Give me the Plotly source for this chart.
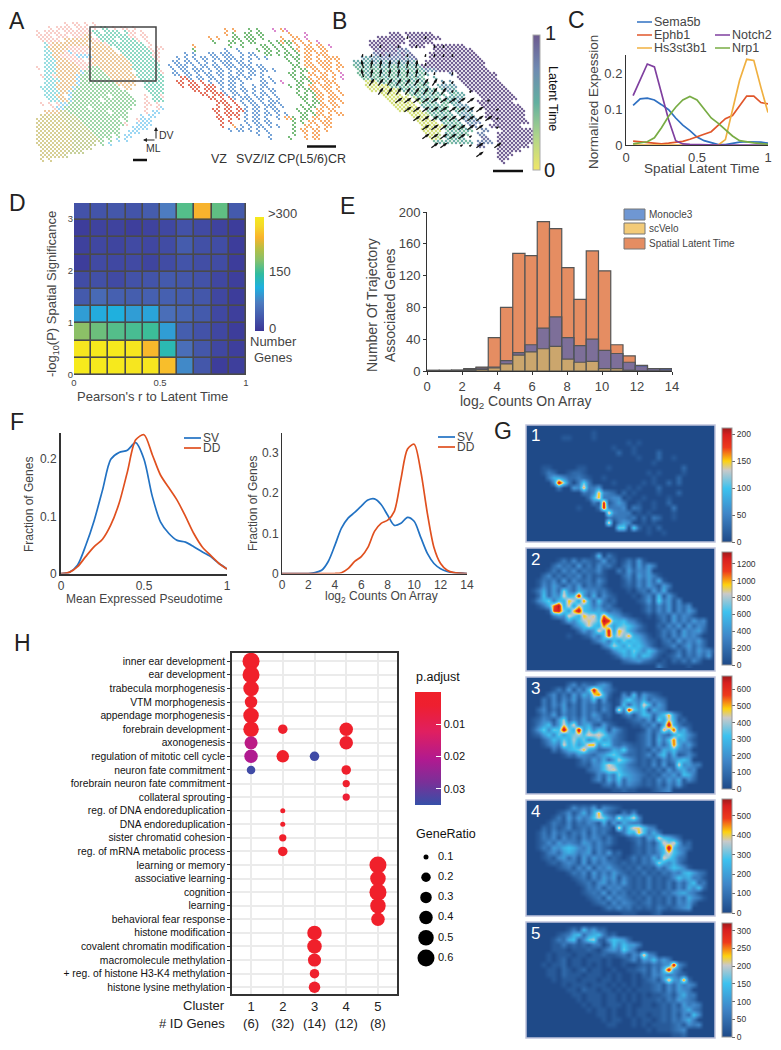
import math

import numpy as np
import plotly.graph_objects as go

W, H = 781, 1050
FONT = "Liberation Sans"
DARK = "#333333"

# ---- panel A: one letter per lattice cell
a_colors = dict(p="#f2a39a", o="#dd9a45", g="#4fb45e", t="#2db892", c="#45c3c9",
                b="#4ab6ea", y="#b5a63c", l="#98a945")
a_left = [
    ".......p.pp.p.p..", "...p.pppp.ppp.p.tt.p.pp.p", "p.pppp.ppppppptt.tttt.tpp.p",
    "pppp.ppp.pppoo.ttttttttpp.pp", ".ppppp.ooooooopptttt.ttttp.p", "..cpooooooooo.ooopttttttttt.p",
    "..cooooopppppoooooo.ttttttttp.pp", "..ccooopbpppp.oooooo.ttttttttpp", "..ccooppppbbbbooooooootttttttpp",
    "..cccooopppp.poooooooootttttttp", "..cccoooooppppoooooooooottttttt", "p.cccooooooppgggoooooooottttttt",
    "..cccoooooobgggggooooooo.ttttttp", ".pccpooooobgggggggooooooottttttt", "..ccccoooobggggggggoooooo.tttttt",
    "..cccooooobgggggggggooooo..ttttt", ".ccccoooobggggggggggg.oo...ttttt", "..ccccoobgggggggggggggg.....tttt",
    "..cccoo.bggggggggg.ggggg...p.ttp", "...cccoobggggggg.gggggggg..p.ttt", ".p.p.pbbggggggggggggggggg..pp.p",
    "....pbbgggggg.gggggggggg...p..pb", "..oooollgggggggggg.gggg....p.bb", ".yyyyyllllggggggggggggg...b.bb",
    "yyyyyyyllllgggggggggg.g..pbbb", "yyyyyyyyllllggggggggggp..bbbb", "yyyyyyyylllllgggggggg...bbbb",
    "yyyyyyyyylllllggggggg..bbb", "yyyyyyyyyllllllgggg.g.bb", "yyyyyyyyylllllllg.g.b.b",
    "yyyyyyyyyllllll.g.b", ".yyyyyyyylllll", ".yyyyyyyllll", ".yyyyyyl", ".y.y",
]
a2_colors = dict(b="#3f7fc6", r="#d8391f", g="#3f9f45", o="#f2872c", m="#cc58bb")
a_right = [
    "..............o.o...g.g...m.om", "..............o.g..gg.gg......o...m", "..........o.o...gg.ggg.g....o..oo.m.",
    "...........g...gg.g.gg...g.goggo.o.o.m", "......o........g..g....gg.g.g.g.o.oo.oo.m",
    "......g.......b..b....g.gg.g.g.go.ooo.oo", "....b.b...bb.bbb..b.bb..gg.g.gg.g.oo.ooo.",
    "..b.b.b.bb.bb.bbb.b.b.b.b....g.gg.oo.o.oooo", ".bb.bb.b.b.b.bbb.bb.b.........g.g.oo.oooo.o",
    "b.bbb.b.bb.bb.bbb.bbb.bb.......gg.ooo.ooo.oo", ".b.bb.bbb.b.bb.b.bb.bb.bb.b....g.gg.oo.oo.o",
    ".bb.bb.b.bb.bb.b.bb.bb.b......gg.g.oo.oo.o.m", "...rrb.bb.bb.b.bbb.bb..b.b.....g.ggo.ooo.o.m",
    "..rr.rr.r.b.bb.bb.b....bb.b.m...gg.goo.ooo", "...r.rrr.rrr.b.bb.b..b.bb.....g.gg.oo.ooo.o",
    "......rr.rrr.b.bb.bb.b.b.bb.....g.ggoo.oo.o", "........rr.rrrb.bb.b.b.bb.b.....g.g.goo.oo.o",
    "..........rr.r.rb.bbb.bb.b.b.....gg.goo.ooo", "............rrr.r.b.bb.b.bbb......g.ggo.oo.oo",
    "............r.rr.r.b.bb.bbb.b....g.gg.oo.oo.o", "...........rr.rr.rrb.bb.b.bb....g.gg.oo.oo",
    "............r.rrrr.b.bb.bb.b.b...gg.goo.o.oo", "............rr.r.r.b.bb.b..b.oog.gg.oo.oo",
    ".............r.r...b.bb.bb.....g.g.oo.ooo", ".............r..o.b.b.bb.b.b...g..oo.o.oo",
    "...............b.bb.b.b.b......g.oo.oo.o", "......................b..b.....g..o.oo.",
    ".........................b....g...o.oo",
]

# ---- panel B: latent time in ninths per lattice cell, arrows per coarser cell
b_time = [
    "", "..........999.9999999", ".......9999999.99999999", ".....999999999.999999",
    ".....99999899..9999..99999999", "......989989787......9999999999", "......7897887978....999999999999",
    "...65666777778678...9999999999999", ".5555565656656665..999999999999999", ".454545455545545559999999999999999",
    "..445444544454545457679999999999999", "..445444544454454545.....7.9999999999", "...4454445445445454..5.....9999999999",
    "....1114544544545454...6.6..9999999999", "....1111114454455445..56656..9999999999",
    ".....11111112545445454.5665...9999999999", "........11111.2454545454.5455...999999999",
    ".........111111.2454544.55565....999999999", "..........111111.24545.44556....999999999",
    "...........111111.5454544.5666...9999999999", "............111111.454544.54566...9999999999",
    "...............11112454545.5665...9999999999", "................1111.454545.6666..9999999999",
    ".................11111.54545.7677...999999999", "..................11111145445.77...99999999",
    "..................11111.4545454..77...999999999", "...................1112.545454..77...999999999",
    "....................112.54545....88..999999999", ".....................4545454545.7777.999999999",
    "................................88...99999999", ".....................................999999",
    ".....................................9999", ".....................................999", "......................................9",
]
arrow_codes = dict(A=-15, B=10, C=35, D=55)
b_arrows = [
    "......b.b", "...b.b.b.bb", ".bbbb.b.bbbb", ".ABBBBBBb", ".ABBBBBBbb.b", "..CCCCCCCCcc",
    "...CCCCCCCCc.c", ".....DDDDDDDDD.d", "......DDDDDDDDD.d", ".......DDDDDDDDDd", "........DDDDDDD.d",
    "........DDDDDd", ".........DD.ddD.D", "..............D",
]

# ---- panel C
c_x = [0.05, 0.1, 0.15, 0.2, 0.25, 0.3, 0.35, 0.4, 0.45, 0.5, 0.55, 0.6, 0.65, 0.7, 0.75, 0.8, 0.85, 0.9, 0.95, 1]
sema5b = [.11, .128, .13, .125, .112, .098, .075, .055, .04, .022, .012, .006, .001, .001, .005, .008, .009, .009, .008, .005]
ephb1 = [.011, .009, .005, .003, .003, .005, .007, .01, .016, .024, .03, .037, .055, .073, .082, .11, .136, .136, .118, .114]
hs3st3b1 = [0, 0, 0, 0, 0, 0, 0, 0, 0, 0, 0, 0, 0, .015, .1, .18, .238, .235, .16, .09]
notch2 = [.137, .18, .225, .217, .14, .07, .012, .003, .002, .001, 0, 0, 0, 0, 0, 0, 0, 0, 0, 0]
nrp1 = [.003, .006, .009, .02, .048, .08, .105, .125, .135, .125, .1, .075, .06, .042, .025, .012, .008, .006, .004, .002]

# ---- panel D, bottom row first
d_counts = [
    [300, 298, 298, 295, 295, 255, 85, 35, 8, 10],
    [295, 298, 298, 295, 250, 140, 60, 35, 18, 10],
    [190, 175, 165, 160, 155, 100, 42, 30, 18, 8],
    [100, 110, 115, 100, 105, 60, 50, 38, 20, 10],
    [38, 55, 45, 42, 45, 45, 40, 35, 18, 8],
    [24, 28, 22, 30, 32, 38, 35, 30, 18, 10],
    [8, 22, 20, 22, 16, 24, 32, 26, 24, 8],
    [12, 18, 16, 22, 18, 24, 40, 28, 25, 8],
    [8, 14, 14, 10, 14, 20, 30, 22, 14, 8],
    [30, 32, 35, 32, 40, 75, 165, 245, 170, 38],
]
d_scale = [[0, "#3b3596"], [.12, "#4458ab"], [.25, "#4d7cc0"], [.38, "#1fb0e0"], [.5, "#30bca0"],
           [.62, "#86c06c"], [.72, "#b5bf45"], [.82, "#f9b32c"], [.92, "#f5d92a"], [1, "#f6ea1c"]]

# ---- panel E, bins of 0.7
e_centers = [.35, 1.05, 1.75, 2.45, 3.15, 3.85, 4.55, 5.25, 5.95, 6.65, 7.35, 8.05, 8.75, 9.45, 10.15, 10.85, 11.55, 12.25, 12.95, 13.65]
e_spatial = [1, 1, 1, 3, 5, 42, 80, 148, 145, 188, 179, 130, 90, 151, 126, 33, 19, 6, 3, 2]
e_monocle = [0, 0, 1, 2, 4, 5, 13, 23, 33, 54, 68, 42, 32, 40, 26, 22, 11, 7, 3, 3]
e_scvelo = [0, 0, 0, 1, 2, 4, 9, 20, 24, 28, 31, 15, 11, 12, 3, 3, 1, 0, 0, 0]

# ---- panel F
f1_x = [0, .05, .1, .15, .2, .25, .3, .35, .4, .45, .5, .55, .6, .65, .7, .75, .8, .85, .9, .95, 1]
f1_sv = [0, .002, .015, .05, .093, .146, .2, .212, .216, .229, .2, .135, .09, .07, .058, .055, .047, .038, .03, .018, .008]
f1_dd = [0, .002, .012, .03, .047, .06, .085, .123, .178, .234, .243, .208, .172, .15, .128, .1, .07, .047, .032, .018, .008]
f2_x = [0, 1, 2, 2.5, 3, 3.5, 4, 4.5, 5, 5.5, 6, 6.5, 7, 7.5, 8, 8.5, 9, 9.5, 10, 10.5, 11, 11.5, 12, 12.5, 13, 14]
f2_sv = [0, 0, 0, .002, .008, .03, .07, .113, .138, .152, .168, .183, .186, .172, .145, .12, .125, .14, .13, .09, .05, .025, .012, .005, .002, 0]
f2_dd = [0, 0, 0, 0, 0, 0, 0, .002, .012, .03, .042, .065, .105, .125, .133, .155, .235, .31, .322, .255, .15, .065, .025, .008, .002, 0]

# ---- panel G: hex levels (0-f) of each panel's top value, one string per 5 px row
g_tops = [212, 1340, 680, 585, 322]
g_ticks = [[0, 50, 100, 150, 200], [0, 200, 400, 600, 800, 1000, 1200], [0, 100, 200, 300, 400, 500, 600],
           [0, 100, 200, 300, 400, 500], [0, 50, 100, 150, 200, 250, 300]]
g1 = [
    "", "0000000000000100", "0000000110000100000000000000", "000000000000000000001010",
    "00000000000000000100010", "00000000000000000020010000200", "0000000000000000000000100020010",
    "00000000000000000000000001000000", "00011000001100001000000000000002", "00013200122100000000000010100001",
    "00003664223210010000000001000020", "000004f930383000010000010100202", "00000030054b33500000101000200",
    "00000000000324b4320201000010002", "00000000000027b3344010010000100", "000000000000031e13530010010020",
    "000000000010002e3334032001000300", "0000000000000000b4333010100001000", "0000000000000000323323020320010",
    "0000000000000000b03540010100", "00000000000000000088082010200", "000000000000000000000000100100", "",
]
g2 = [
    "", "00000000000001703100", "000000131413212512013151", "00000242315131423102415253",
    "0000131424132241003152435", "000241313241312100024153531", "0013241514223142000131425261",
    "00142531425132310001214253153", "01362529426534231000102315261", "0027254a67e5261421000102417152",
    "01468376b95c6273120000125183514", "00136cf6a5a7635231000001314251424", "00001de85bf76564232000013142514253",
    "00000354a86b9a6c754210001023152431", "000000026479a97fd7674310001315242534", "000000000357a76c85787531002142515243",
    "00000000002535a7e5b96421001324153452", "0000000010012537d7a8b65310131425342", "000000000000024637586764210231524352",
    "000000000000000359758675310124135242", "00000000000000001467586475210131425341", "0000000000000000013657476310124132425",
    "00000000000000000002345321010213142", "0000000000000000000000000031000010",
]
g3 = [
    "", "00000000241322453", "0000013151427e8431", "0000241315264ac620041715321",
    "0003141425143715101585362432", "00031425131423132017264a7253", "002413152314231420b3e8571643",
    "0013251423142531200241476257b52", "0124315924252341100012325185a612", "0135725a6a356215210001132516f6311",
    "0258487f86f5847615310001423b7d462", "012574857897a9a8542100124153268642", "00024758696846856321001241637c5631",
    "0001353a6857bb487323211241525c6352", "00000314678b652236583212142657433", "0000000132543245786322124157261242",
    "000000000013253625975312131424675", "0000000000121447a8653212141512a4533", "00000000000023479a7543212131525634",
    "0000000000000142538654321214352763", "0000000000000241637254312142536142", "00000000000000023152432121314251",
    "00000000000000000112110001234",
]
g4 = [
    "", "00000000142325143210", "00000012413626b4210314", "00000131525347a853a57a4",
    "00001321413243161526433", "00021312412324232 0b37aa743".replace(" ", ""), "0013142313241423101376b7363",
    "00132414231424313100123154a7642", "001242534325424231000131315a8a512", "0013254676435242100001213257f7432",
    "0001342565345142512001213247a753", "000121452415253412101313263a8632", "00001213431514243212121324964631",
    "00000012314251435321213121425 7641".replace(" ", ""), "000000001324152425321213121324367532", "000000000123142535142121312124756331",
    "000000000012314524252121312131425723", "000000000001324143422121312131426472", "00000000000123251423121312132456431",
    "000000000000123152432121312131426431", "00000000000001231424321231213143 52".replace(" ", ""), "00000000000000013242312121321 2345".replace(" ", ""),
    "000000000000000000011100012",
]
g5 = [
    "", "0000000013173522", "000000123672567312", "000001326714892157652",
    "00000113121213302747553", "0000011101112102453853", "0000101110110112 1123143b43".replace(" ", ""),
    "00001012011011101001241547353", "00010112011010101001001213245f42", "0000110210120110010011231427f53",
    "00001102111011101010010214353422", "00000101110111011010010123 15b54c2".replace(" ", ""), "0000000101110111010101011231425343",
    "000000001102110110101011123142543", "0000000001101110110101010112314633", "0000000000101110110101011121325432",
    "000000000001011011101001 10121315343".replace(" ", ""), "00000000000010110100101111121324632", "00000000000000110100101101121314274",
    "00000000000000010110010110121324 63".replace(" ", ""), "0000000000000000110001010111 1231434".replace(" ", ""), "00000000000000000000000010111234",
    "00000000000000000000000000000112",
]
g_scale = [[0, "#1f4a88"], [.25, "#3f86c8"], [.47, "#3dc2ef"], [.63, "#c9c9c9"], [.71, "#fdd20e"],
           [.83, "#ee3a1c"], [.94, "#d81f1f"], [1, "#9e1b1b"]]

# ---- panel H
h_terms = ["inner ear development", "ear development", "trabecula morphogenesis", "VTM morphogenesis",
           "appendage morphogenesis", "forebrain development", "axonogenesis", "regulation of mitotic cell cycle",
           "neuron fate commitment", "forebrain neuron fate commitment", "collateral sprouting",
           "reg. of DNA endoreduplication", "DNA endoreduplication", "sister chromatid cohesion",
           "reg. of mRNA metabolic process", "learning or memory", "associative learning", "cognition", "learning",
           "behavioral fear response", "histone modification", "covalent chromatin modification",
           "macromolecule methylation", "+ reg. of histone H3-K4 methylation", "histone lysine methylation"]
h_clusters = [1, 2, 3, 4, 5]
h_genes = [6, 32, 14, 12, 8]
dot_term = [0, 1, 2, 3, 4, 5, 5, 5, 6, 6, 7, 7, 7, 8, 8, 9, 10, 11, 12, 13, 14, 15, 16, 17, 18, 19, 20, 21, 22, 23, 24]
dot_cluster = [1, 1, 1, 1, 1, 1, 2, 4, 1, 4, 1, 2, 3, 1, 4, 4, 4, 2, 2, 2, 2, 5, 5, 5, 5, 5, 3, 3, 3, 3, 3]
dot_ratio = [.6, .6, .5, .35, .5, .5, .2, .4, .38, .4, .4, .35, .2, .18, .2, .15, .15, .1, .1, .15, .2,
             .6, .5, .6, .5, .4, .45, .45, .38, .2, .3]
dot_padj = [.001, .001, .001, .001, .001, .001, .002, .001, .019, .002, .021, .001, .034, .034, .002, .002, .005,
            .001, .001, .001, .001, .001, .001, .001, .001, .001, .001, .001, .002, .002, .002]
legend_ratio = [.1, .2, .3, .4, .5, .6]
legend_diam = [5, 9.5, 11.5, 13.5, 15.5, 17]
padj_ticks = [.01, .02, .03]
padj_top = .035
# high end of the scale is the low p.adjust: the bar is drawn red on top
padj_scale = [[0, "#3650a8"], [.2, "#7a3098"], [.4, "#b01a90"], [.65, "#e01f60"], [.88, "#ee1f30"], [1, "#f0202a"]]

fig = go.Figure()
axis_count = 0
HIDE = dict(visible=False)


def add_axes(box, xa, ya):
    global axis_count
    axis_count += 1
    n = "" if axis_count == 1 else axis_count
    x0, x1, y0, y1 = box
    fig.update_layout({
        f"xaxis{n}": dict(domain=[x0 / W, x1 / W], anchor=f"y{n}", **xa),
        f"yaxis{n}": dict(domain=[1 - y1 / H, 1 - y0 / H], anchor=f"x{n}", **ya),
    })
    return f"x{n}", f"y{n}"


def txt(text, x, y, size=12, anchor="left", rot=0, color=DARK):
    fig.add_annotation(text=text, x=x / W, y=1 - y / H, xref="paper", yref="paper", showarrow=False, borderpad=0,
                       xanchor=anchor, yanchor="middle", textangle=rot, font=dict(size=size, color=color))


def line(x0, y0, x1, y1, color=DARK, width=1.5):
    fig.add_shape(type="line", xref="paper", yref="paper", x0=x0 / W, x1=x1 / W, y0=1 - y0 / H, y1=1 - y1 / H,
                  line=dict(color=color, width=width))


def rect(x0, y0, x1, y1, fill=None, color=None, width=1, layer="above"):
    fig.add_shape(type="rect", xref="paper", yref="paper", x0=x0 / W, x1=x1 / W, y0=1 - y0 / H, y1=1 - y1 / H,
                  fillcolor=fill, layer=layer, line=dict(color=color, width=width if color else 0))


def lattice(rows):
    # two dots per cell, checkerboard style
    out = []
    for r, row in enumerate(rows):
        for c, ch in enumerate(row):
            if ch != ".":
                out.append((c + .25, r + .25, ch))
                out.append((c + .75, r + .75, ch))
    return out


def bar_opts(x, y0, length, thick):
    return dict(x=x / W, xanchor="left", xpad=0, y=1 - y0 / H, yanchor="top", ypad=0, lenmode="pixels", len=length,
                thicknessmode="pixels", thickness=thick)


# A, whole section and the boxed detail
for rows, colors, box, size, alpha in [(a_left, a_colors, (36, 168, 22, 162), 2, .72),
                                        (a_right, a2_colors, (168, 344, 28, 140), 2, .95)]:
    xa, ya = add_axes(box, dict(range=[0, (box[1] - box[0]) / 4], **HIDE), dict(range=[(box[3] - box[2]) / 4, 0], **HIDE))
    pts = lattice(rows)
    fig.add_trace(go.Scatter(x=[p[0] for p in pts], y=[p[1] for p in pts], mode="markers", xaxis=xa, yaxis=ya,
                             marker=dict(size=size, opacity=alpha, color=[colors[p[2]] for p in pts])))
rect(90, 27, 156, 81, color="#444444", width=1.5)
line(133, 160, 147, 160, "#111111", 2.5)
line(307, 146.5, 336, 146.5, "#111111", 2.5)
fig.add_annotation(x=156 / W, y=1 - 127 / H, xref="paper", yref="paper", ax=0, ay=13, text="", arrowhead=2, arrowsize=.8,
                   arrowwidth=1, arrowcolor="#222222")
fig.add_annotation(x=143 / W, y=1 - 140 / H, xref="paper", yref="paper", ax=13, ay=0, text="", arrowhead=2, arrowsize=.8,
                   arrowwidth=1, arrowcolor="#222222")
txt("DV", 158, 135, 10.5)
txt("ML", 145, 148, 10.5)
txt("VZ", 219, 159, 12.5, "center")
txt("SVZ/IZ", 255, 159, 12.5, "center")
txt("CP(L5/6)CR", 312, 159, 12.5, "center")

# B
xa, ya = add_axes((349, 533, 28, 168), dict(range=[0, 46], **HIDE), dict(range=[35, 0], **HIDE))
pts = lattice(b_time)
fig.add_trace(go.Scatter(x=[p[0] for p in pts], y=[p[1] for p in pts], mode="markers", xaxis=xa, yaxis=ya,
                         marker=dict(size=2.5, color=[int(p[2]) / 9 for p in pts], cmin=0, cmax=1, opacity=.95,
                                     colorscale=[[0, "#f0e668"], [.25, "#aed58a"], [.5, "#62b0a0"], [.75, "#6f8ab2"], [1, "#6d5a8f"]],
                                     colorbar=dict(**bar_opts(533, 35, 135, 7), showticklabels=False, ticks="",
                                                   outlinecolor="#aaaaaa", outlinewidth=1))))
xa, ya = add_axes((349, 529, 33, 168), dict(range=[0, 20], **HIDE), dict(range=[15, 0], **HIDE))
stem_x, stem_y, tip_x, tip_y, tip_a, tip_s = [], [], [], [], [], []
for r, row in enumerate(b_arrows):
    for c, ch in enumerate(row):
        if ch != ".":
            big = ch.isupper()
            ang = arrow_codes[ch.upper()]
            reach = .42 if big else .14
            dx, dy = reach * math.sin(math.radians(ang)), reach * math.cos(math.radians(ang))
            stem_x += [c + .5 - dx, c + .5 + dx, None]
            stem_y += [r + .5 + dy, r + .5 - dy, None]
            tip_x.append(c + .5 + dx * 1.4)
            tip_y.append(r + .5 - dy * 1.4)
            tip_a.append(ang)
            tip_s.append(5 if big else 3)
fig.add_trace(go.Scatter(x=stem_x, y=stem_y, mode="lines", xaxis=xa, yaxis=ya, line=dict(color="#111111", width=1.3)))
fig.add_trace(go.Scatter(x=tip_x, y=tip_y, mode="markers", xaxis=xa, yaxis=ya,
                         marker=dict(symbol="arrow", size=tip_s, angle=tip_a, opacity=1, color="#111111", line=dict(width=0))))
line(493, 171, 523, 171, "#111111", 2.5)
txt("1", 550, 33, 20, "center", color="#222222")
txt("0", 549, 170, 20, "center", color="#222222")
txt("Latent Time", 553, 98, 12.5, "center", 90, "#111111")

# C
tick13 = dict(tickfont=dict(size=13, color="#444444"))
xa, ya = add_axes((626, 768, 55, 145),
                  dict(range=[0, 1], tickvals=[0, .5, 1], ticktext=["0", "0.5", "1"], showgrid=False, zeroline=False,
                       showline=True, linecolor=DARK, ticks="", **tick13),
                  dict(range=[0, .25], tickvals=[0, .1, .2], ticktext=["0", "0.1", "0.2"], showgrid=False, zeroline=False,
                       showline=True, linecolor=DARK, ticks="", **tick13))
for ys, col in [(sema5b, "#2f70c2"), (ephb1, "#e0562a"), (hs3st3b1, "#f0b040"), (notch2, "#7f3f9f"), (nrp1, "#78ac44")]:
    fig.add_trace(go.Scatter(x=c_x, y=ys, mode="lines", xaxis=xa, yaxis=ya, line=dict(color=col, width=1.7), cliponaxis=False))
for name, col, lx, ly in [("Sema5b", "#2f70c2", 637, 22), ("Ephb1", "#e0562a", 637, 35), ("Hs3st3b1", "#f0b040", 637, 48),
                          ("Notch2", "#7f3f9f", 715, 35), ("Nrp1", "#78ac44", 715, 48)]:
    line(lx, ly, lx + 15, ly, col, 1.5)
    txt(name, lx + 16, ly, 12.5, color="#444444")
txt("Normalized Expession", 593, 102, 13.5, "center", -90, "#444444")
txt("Spatial Latent Time", 702, 168, 13.5, "center", color="#444444")

# D
rect(74, 203, 246, 375, fill="#4a4a4a", layer="below")
xa, ya = add_axes((74, 246, 203, 375),
                  dict(range=[0, 1], tickvals=[0, .5, 1], ticktext=["0", "0.5", "1"], showgrid=False, zeroline=False,
                       ticks="", tickfont=dict(size=9.5, color="#444444")),
                  dict(range=[0, 3.31], tickvals=[0, 1, 2, 3], showgrid=False, zeroline=False, ticks="",
                       tickfont=dict(size=9.5, color="#444444")))
fig.add_trace(go.Heatmap(z=d_counts, x0=.05, dx=.1, y0=.1655, dy=.331, xaxis=xa, yaxis=ya, xgap=1.6, ygap=1.6, zmin=0, zmax=300,
                         colorscale=d_scale, hoverinfo="skip",
                         colorbar=dict(**bar_opts(255, 217, 114, 9), showticklabels=False, ticks="", outlinewidth=0)))
txt("-log<sub>10</sub>(P) Spatial Significance", 52, 294, 13, "center", -90, "#444444")
txt("Pearson's r to Latent Time", 152, 396, 13, "center", color="#444444")
txt("&gt;300", 267, 214, 13, color="#444444")
txt("150", 268, 272, 13, color="#444444")
txt("0", 268, 328, 13, color="#444444")
txt("Number", 273, 341, 13, "center", color="#444444")
txt("Genes", 273, 357, 13, "center", color="#444444")

# E
xa, ya = add_axes((427, 672, 212, 371),
                  dict(range=[0, 14], tickvals=list(range(0, 15, 2)), showgrid=False, zeroline=False, showline=True,
                       linecolor=DARK, ticks="outside", ticklen=3, tickcolor=DARK, **tick13),
                  dict(range=[0, 200], tickvals=list(range(0, 201, 40)), showgrid=False, zeroline=False, showline=True,
                       linecolor=DARK, ticks="outside", ticklen=3, tickcolor=DARK, **tick13))
for ys, col in [(e_spatial, "#e58d62"), (e_monocle, "rgba(85,100,175,0.72)"), (e_scvelo, "rgba(236,190,90,0.7)")]:
    fig.add_trace(go.Bar(x=e_centers, y=ys, width=.7, xaxis=xa, yaxis=ya, marker=dict(color=col, line=dict(color="#555555", width=1.2))))
for name, col, ly in [("Monocle3", "#6f97d3", 209), ("scVelo", "#f3cb78", 223), ("Spatial Latent Time", "#e58d62", 238)]:
    rect(624, ly, 645, ly + 11, fill=col, color="#777777", width=1)
    txt(name, 648, ly + 5.5, 10, color="#444444")
txt("Number Of Trajectory", 372, 305, 14, "center", -90, "#444444")
txt("Associated Genes", 390, 305, 14, "center", -90, "#444444")
txt("log<sub>2</sub> Counts On Array", 526, 402, 14, "center", color="#444444")

# F
tick11 = dict(tickfont=dict(size=12, color="#444444"))
xa, ya = add_axes((61, 227, 433, 573.5),
                  dict(range=[0, 1], tickvals=[0, .5, 1], ticktext=["0", "0.5", "1"], showgrid=False, zeroline=False,
                       showline=True, linecolor=DARK, linewidth=1.5, ticks="", **tick11),
                  dict(range=[0, .246], tickvals=[0, .1, .2], ticktext=["0", "0.1", "0.2"], showgrid=False, zeroline=False,
                       showline=True, linecolor=DARK, linewidth=2, ticks="", **tick11))
for ys, col in [(f1_sv, "#2272c3"), (f1_dd, "#e0501f")]:
    fig.add_trace(go.Scatter(x=f1_x, y=ys, mode="lines", xaxis=xa, yaxis=ya, cliponaxis=False,
                             line=dict(color=col, width=1.7, shape="spline", smoothing=.8)))
xa, ya = add_axes((282, 467, 433, 573.5),
                  dict(range=[0, 14], tickvals=list(range(0, 15, 2)), showgrid=False, zeroline=False, showline=True,
                       linecolor=DARK, ticks="", **tick11),
                  dict(range=[0, .35], tickvals=[0, .1, .2, .3], ticktext=["0", "0.1", "0.2", "0.3"], showgrid=False,
                       zeroline=False, showline=True, linecolor=DARK, ticks="", **tick11))
for ys, col in [(f2_sv, "#2272c3"), (f2_dd, "#e0501f")]:
    fig.add_trace(go.Scatter(x=f2_x, y=ys, mode="lines", xaxis=xa, yaxis=ya, cliponaxis=False,
                             line=dict(color=col, width=1.7, shape="spline", smoothing=.8)))
for lx, ly, name, col in [(184, 438, "SV", "#2272c3"), (184, 448, "DD", "#e0501f"), (438, 437, "SV", "#2272c3"), (438, 447, "DD", "#e0501f")]:
    line(lx, ly, lx + 17, ly, col, 1.7)
    txt(name, lx + 18, ly, 12, color="#444444")
txt("Fraction of Genes", 29, 505, 12, "center", -90, "#444444")
txt("Fraction of Genes", 253, 504, 12, "center", -90, "#444444")
txt("Mean Expressed Pseudotime", 144, 599, 12, "center", color="#444444")
txt("log<sub>2</sub> Counts On Array", 381, 597, 12, "center", color="#444444")

# G
g_boxes = [(425, 542), (548, 671), (677, 794), (800, 916), (922, 1038)]
g_bars = [(428, 542), (552, 665), (676, 789), (799, 913), (923, 1037)]
for i, rows in enumerate([g1, g2, g3, g4, g5]):
    y0, y1 = g_boxes[i]
    rect(526, y0, 715, y1, fill="#1f4a88", layer="below")
    xa, ya = add_axes((526, 715, y0, y1), dict(range=[0, 37.8], **HIDE), dict(range=[(y1 - y0) / 5, 0], **HIDE))
    top = g_tops[i]
    z = [[int(ch, 16) / 15 * top for ch in row.ljust(38, "0")[:38]] for row in rows]
    fig.add_trace(go.Heatmap(z=z, x0=.5, dx=1, y0=.5, dy=1, xaxis=xa, yaxis=ya, zmin=0, zmax=top, zsmooth="best",
                             colorscale=g_scale, hoverinfo="skip",
                             colorbar=dict(**bar_opts(722, g_bars[i][0], g_bars[i][1] - g_bars[i][0], 10),
                                           tickvals=g_ticks[i], ticks="outside", ticklen=3, tickcolor="#666666",
                                           tickfont=dict(size=8.5, color="#333333"), outlinecolor="#999999", outlinewidth=1)))
    rect(526, y0, 715, y1, color="#c0c4dc", width=1.5)
    txt(str(i + 1), 530, y0 + 11, 17, color="white")

# H
xa, ya = add_axes((232, 397, 653, 994),
                  dict(range=[.4, 5.6], tickvals=h_clusters, ticktext=[f"{c}<br>({n})" for c, n in zip(h_clusters, h_genes)],
                       gridcolor="#ebebeb", gridwidth=1.5, zeroline=False, ticks="", tickfont=dict(size=13, color="#222222"),
                       showline=True, mirror=True, linecolor=DARK, linewidth=1.5),
                  dict(type="category", categoryorder="array", categoryarray=h_terms, range=[24.5, -.61], gridcolor="#ebebeb",
                       gridwidth=1.5, zeroline=False, ticks="outside", ticklen=3, tickcolor=DARK, tickmode="array",
                       tickvals=h_terms, tickfont=dict(size=10.3, color="#111111"), showline=True, mirror=True,
                       linecolor=DARK, linewidth=1.5))
fig.add_trace(go.Scatter(x=dot_cluster, y=[h_terms[i] for i in dot_term], mode="markers", xaxis=xa, yaxis=ya,
                         marker=dict(size=np.interp(dot_ratio, legend_ratio, legend_diam), opacity=1,
                                     color=[padj_top - v for v in dot_padj], cmin=0, cmax=padj_top,
                                     colorscale=padj_scale, line=dict(width=0),
                                     colorbar=dict(**bar_opts(415, 692, 113, 26), tickvals=[padj_top - v for v in padj_ticks],
                                                   ticktext=[f"{v:.2f}" for v in padj_ticks], ticks="inside", ticklen=5,
                                                   tickcolor="white", tickfont=dict(size=11, color="#111111"),
                                                   outlinewidth=0))))
txt("p.adjust", 415, 677, 12.5, color="#111111")
txt("GeneRatio", 415, 834, 12.5, color="#111111")
xa, ya = add_axes((414, 438, 847, 968), dict(range=[0, 1], **HIDE), dict(range=[.65, .05], **HIDE))
fig.add_trace(go.Scatter(x=[.5] * 6, y=legend_ratio, mode="markers", xaxis=xa, yaxis=ya,
                         marker=dict(size=legend_diam, opacity=1, color="black", line=dict(width=0))))
fig.add_trace(go.Scatter(x=[1] * 6, y=legend_ratio, mode="text", text=[f"{v:.1f}" for v in legend_ratio], xaxis=xa, yaxis=ya,
                         textposition="middle right", cliponaxis=False, textfont=dict(size=11, color="#111111")))
txt("Cluster", 226, 1005, 13, "right", color="#222222")
txt("# ID Genes", 226, 1023, 13, "right", color="#222222")

for letter, lx, ly in [("A", 8, 21), ("B", 331, 21), ("C", 567, 20), ("D", 8, 203), ("E", 339, 206), ("F", 9, 422),
                       ("G", 493, 431), ("H", 13, 643)]:
    txt(letter, lx, ly, 23, color="#222222")

fig.update_layout(width=W, height=H, autosize=False, margin=dict(l=0, r=0, t=0, b=0, autoexpand=False), showlegend=False,
                  paper_bgcolor="white", plot_bgcolor="rgba(0,0,0,0)", barmode="overlay", font=dict(family=FONT))
fig.write_html("out.html", config=dict(displayModeBar=False), post_script="document.body.style.margin='0';")
